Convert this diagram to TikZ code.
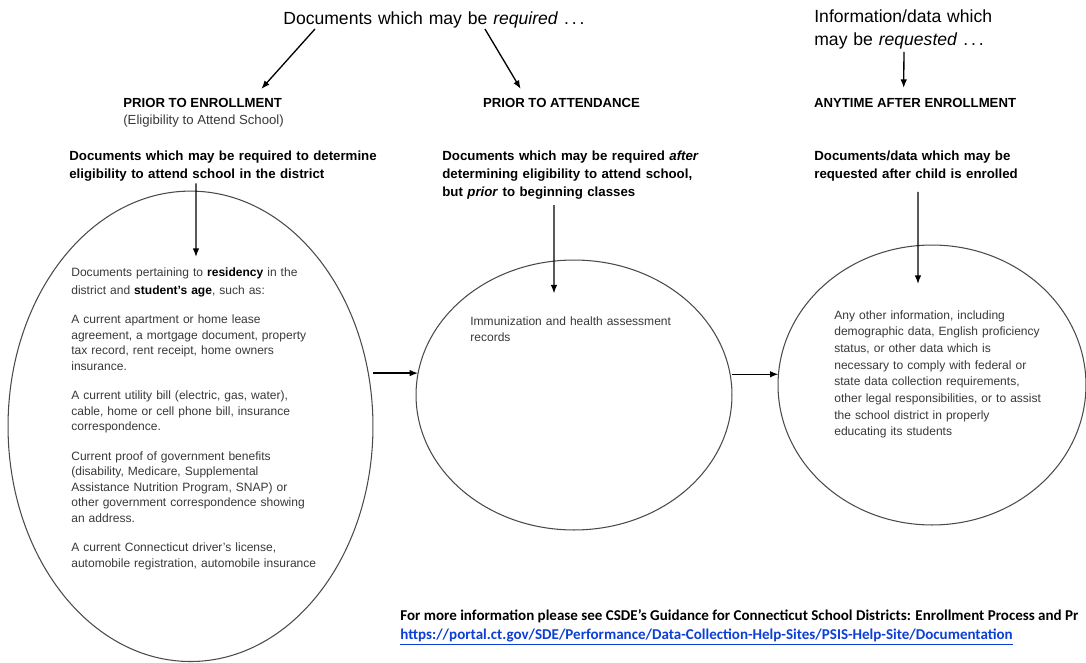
\documentclass[tikz,border=0pt]{standalone}
\usepackage{fontspec}
\setmainfont{Liberation Sans}
\newfontfamily\notefont{Carlito}
\usepackage{tikz}
\usetikzlibrary{shapes, arrows, arrows.meta}
\definecolor{inkgray}{HTML}{383838}
\definecolor{rimgray}{HTML}{4A4A4A}
\definecolor{linkblue}{HTML}{0B3FD6}
\tikzstyle{title} = [anchor=base west, inner sep=0pt, text width=5cm, align=left,
    font=\fontsize{10}{13.6}\selectfont]
\tikzstyle{phase} = [anchor=base west, inner sep=0pt, font=\bfseries\fontsize{7.5}{10}\selectfont]
\tikzstyle{subphase} = [anchor=base west, inner sep=0pt, text=inkgray, font=\fontsize{7.5}{10}\selectfont]
\tikzstyle{heading} = [anchor=base west, inner sep=0pt, text width=6.6cm, align=left,
    font=\bfseries\fontsize{7.55}{10.3}\selectfont]
\tikzstyle{body} = [anchor=base west, inner sep=0pt, text width=5.6cm, align=left,
    text=inkgray, font=\fontsize{6.85}{8.85}\selectfont]
\tikzstyle{stage} = [ellipse, draw=rimgray, line width=0.6pt, inner sep=0pt, outer sep=0pt]
\tikzstyle{note} = [anchor=base west, inner sep=0pt, font=\notefont\bfseries\fontsize{8.55}{10}\selectfont]
\tikzstyle{line} = [draw, line width=0.75pt, -{Latex[length=1.7mm, width=1.3mm]}]

\begin{document}
\begin{tikzpicture}[x=0.02cm, y=-0.02cm]
    \useasboundingbox (0,0) rectangle (1086,663);
    % Stages
    \node [stage, minimum width=7.3cm, minimum height=9.41cm] (lstage) at (190.5,426.3) {};
    \node [stage, minimum width=6.32cm, minimum height=5.4cm] (mstage) at (574,395) {};
    \node [stage, minimum width=6.16cm, minimum height=5.6cm] (rstage) at (932,385) {};
    % Titles
    \node [title, text width=7cm] (req) at (283,24) {Documents which may be \textit{required} .\,.\,.};
    \node [title] (info) at (814,22) {Information/data which\\ may be \textit{requested} .\,.\,.};
    \node [phase] (enroll) at (123,107) {PRIOR TO ENROLLMENT};
    \node [subphase] (elig) at (123,124) {(Eligibility to Attend School)};
    \node [phase] (attend) at (482.7,107) {PRIOR TO ATTENDANCE};
    \node [phase] (anytime) at (813.7,107) {ANYTIME AFTER ENROLLMENT};
    % Headings
    \node [heading] (eligq) at (69,160.7) {Documents which may be required to determine\\
        eligibility to attend school in the district};
    \node [heading] (attq) at (442,160.7) {Documents which may be required \textit{after}\\
        determining eligibility to attend school,\\ but \textit{prior} to beginning classes};
    \node [heading] (anyq) at (814,160.7) {Documents/data which may be\\
        requested after child is enrolled};
    % Contents
    \node [body] (ltext) at (71,276) {Documents pertaining to \textcolor{black}{\textbf{residency}} in the\\[1.5pt]
        district and \textcolor{black}{\textbf{student’s age}}, such as:\\[7.9pt]
        A current apartment or home lease\\
        agreement, a mortgage document, property\\
        tax record, rent receipt, home owners\\
        insurance.\\[7.9pt]
        A current utility bill (electric, gas, water),\\
        cable, home or cell phone bill, insurance\\
        correspondence.\\[7.9pt]
        Current proof of government benefits\\
        (disability, Medicare, Supplemental\\
        Assistance Nutrition Program, SNAP) or\\
        other government correspondence showing\\
        an address.\\[7.9pt]
        A current Connecticut driver’s license,\\
        automobile registration, automobile insurance};
    \node [body] (mtext) at (470,325.5) {Immunization and health assessment\\ records};
    \node [body, font=\fontsize{6.85}{9.5}\selectfont] (rtext) at (834,319) {Any other information, including\\
        demographic data, English proficiency\\
        status, or other data which is\\
        necessary to comply with federal or\\
        state data collection requirements,\\
        other legal responsibilities, or to assist\\
        the school district in properly\\
        educating its students};
    % Footer
    \node [note] (more) at (400,620.5) {For more information please see CSDE’s Guidance for Connecticut School Districts: Enrollment Process and Pr};
    \node [note, text=linkblue] (url) at (400,639) {\underline{https://portal.ct.gov/SDE/Performance/Data-Collection-Help-Sites/PSIS-Help-Site/Documentation}};
    % Edges
    \path [line] ([xshift=0.64cm, yshift=-0.02cm]req.south west) -- ([xshift=-0.42cm, yshift=0.17cm]enroll.north east);
    \path [line] ([xshift=4.04cm, yshift=-0.02cm]req.south west) -- ([xshift=0.76cm, yshift=0.17cm]attend.north west);
    \path [line] ([xshift=1.8cm, yshift=-0.04cm]info.south west) -- ([xshift=1.8cm, yshift=0.19cm]anytime.north west);
    \path [line] ([xshift=2.54cm, yshift=-0.03cm]eligq.south west) -- ([xshift=2.5cm, yshift=0.2cm]ltext.north west);
    \path [line] ([xshift=2.24cm, yshift=-0.1cm]attq.south west) -- ([xshift=1.68cm, yshift=0.46cm]mtext.north west);
    \path [line] ([xshift=2.08cm, yshift=-0.2cm]anyq.south west) -- ([xshift=1.68cm, yshift=0.52cm]rtext.north west);
    \path [line] (lstage.east |- mstage.172.6) -- (mstage.172.6);
    \path [line] (mstage.east |- rstage.176.1) -- (rstage.176.1);
\end{tikzpicture}
\end{document}
